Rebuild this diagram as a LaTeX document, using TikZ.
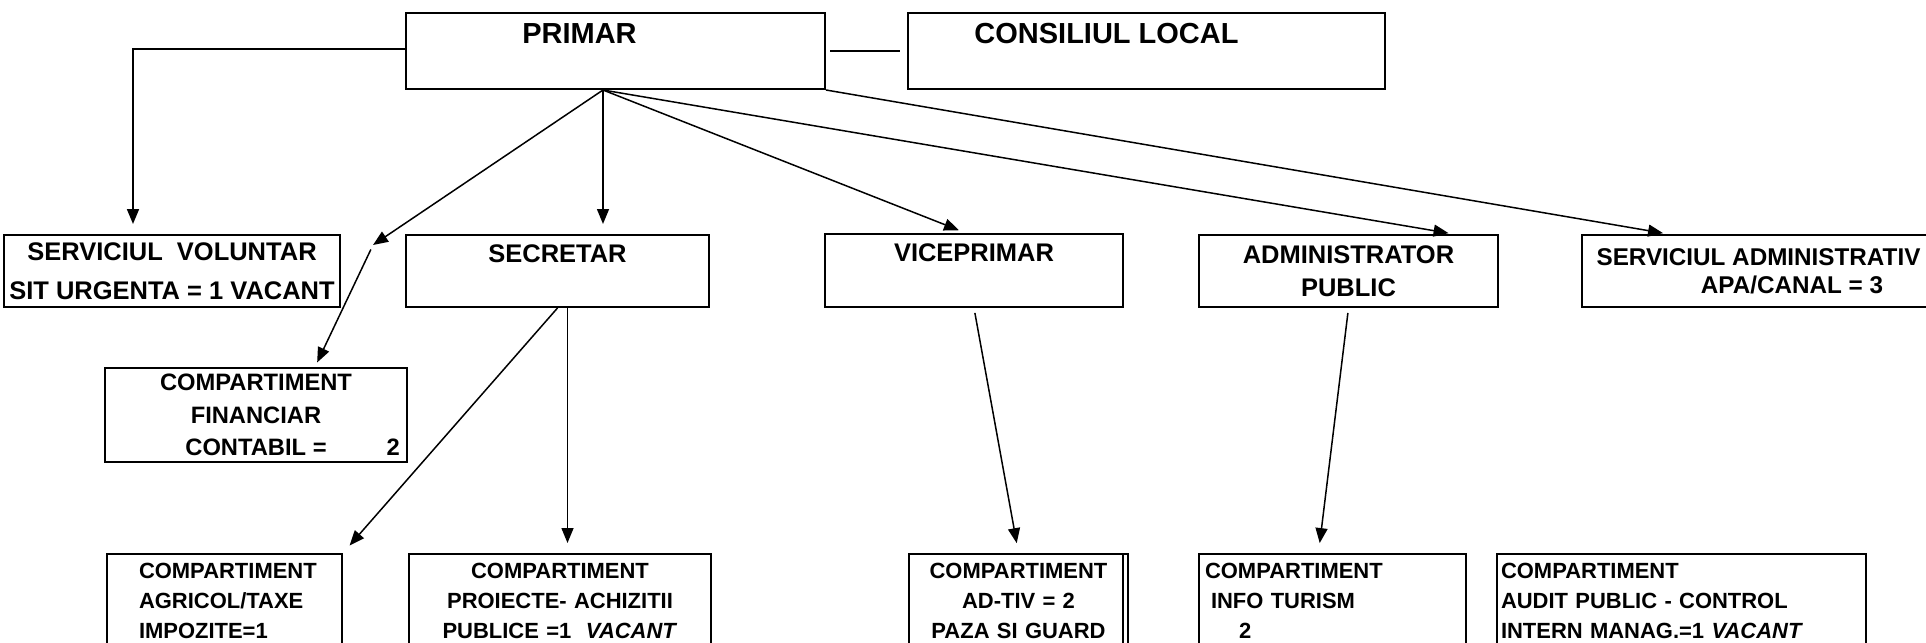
\documentclass[tikz,border=0pt]{standalone}
\usepackage{fontspec}
\setmainfont{Liberation Sans}
\usetikzlibrary{arrows.meta}

\begin{document}
\begin{tikzpicture}[x=0.2mm, y=-0.2mm,
	unit/.style={draw, line width=0.4mm, inner sep=0pt, align=center,
		font=\bfseries\fontsize{14.5}{19}\selectfont},
	head/.style={unit, font=\bfseries\fontsize{16.5}{20}\selectfont},
	comp/.style={draw, line width=0.4mm, anchor=north west, inner ysep=1.9mm,
		font=\bfseries\fontsize{12.5}{17}\selectfont},
	link/.style={line width=0.3mm, -{Triangle[length=3mm,width=2.4mm]}, shorten >=2mm},
	tie/.style={line width=0.4mm}]
	\useasboundingbox (0,0) rectangle (1926,643);

	% top
	\node[head, minimum width=83.8mm, text height=6.1mm, text depth=9.1mm] (primar) at (615.5,51) {PRIMAR\hspace*{14.4mm}};
	\node[head, minimum width=95.4mm, text height=6.1mm, text depth=9.1mm] (consiliu) at (1146.5,51) {CONSILIUL LOCAL\hspace*{16mm}};

	% second row
	\node[unit, minimum width=67.2mm, minimum height=14.4mm, font=\bfseries\fontsize{14.5}{22}\selectfont] (voluntar) at (172,271) {SERVICIUL\ \ VOLUNTAR\\SIT URGENTA = 1 VACANT};
	\node[unit, minimum width=60.6mm, text height=5.4mm, text depth=9mm] (secretar) at (557.5,271) {SECRETAR};
	\node[unit, minimum width=59.6mm, text height=5.4mm, text depth=9.2mm] (vice) at (974,270.5) {VICEPRIMAR};
	\node[unit, minimum width=59.8mm, minimum height=14.4mm] (admin) at (1348.5,271) {ADMINISTRATOR\\PUBLIC};
	\node[unit, minimum width=84mm, minimum height=14.4mm, font=\bfseries\fontsize{13.8}{16}\selectfont] (serviciu) at (1792,271) {SERVICIUL ADMINISTRATIV\hspace*{13.4mm}\\APA/CANAL = 3};

	\node[unit, minimum width=60.4mm, minimum height=18.8mm, font=\bfseries\fontsize{13.5}{18.5}\selectfont] (financiar) at (256,415) {COMPARTIMENT\\FINANCIAR\\CONTABIL =\rlap{\hspace{12mm}2}};

	% bottom row
	\node[comp, text width=34.2mm, inner xsep=6.4mm, align=left] (agricol) at (106,553) {COMPARTIMENT\\AGRICOL/TAXE\\IMPOZITE=1\\\mbox{}};
	\node[comp, text width=60.4mm, inner xsep=0pt, align=center] (proiecte) at (408,553) {COMPARTIMENT\\PROIECTE- ACHIZITII\\PUBLICE =1\ \ \textit{VACANT}\\\mbox{}};
	\node[comp, text width=43.8mm, inner xsep=0pt, align=center] (adtiv) at (908,553) {COMPARTIMENT\\AD-TIV = 2\\PAZA SI GUARD\\\mbox{}};
	\node[comp, text width=51mm, inner xsep=1.2mm, align=left] (info) at (1198,553) {COMPARTIMENT\\\hspace*{1.2mm}INFO TURISM\\\hspace*{6.8mm}2\\\mbox{}};
	\node[comp, text width=72.2mm, inner xsep=0.8mm, align=left] (audit) at (1496,553) {COMPARTIMENT\\AUDIT PUBLIC - CONTROL\\INTERN MANAG.=1 \textit{VACANT}\\\mbox{}};
	\draw[line width=0.4mm] ([xshift=-1.2mm]adtiv.north east) -- ([xshift=-1.2mm]adtiv.south east);

	\coordinate (fan) at ([xshift=-2.5mm]primar.south);
	\coordinate (corner) at (133,49);
	\coordinate (bend) at (373,245);
	\coordinate (drop) at ([xshift=2mm]secretar.south);

	\draw[tie, shorten <=0.8mm, shorten >=1.4mm] (primar.east) -- (consiliu.west);
	\draw[link, line width=0.35mm] (primar.west |- corner) -- (corner) -- (corner |- voluntar.north);
	\draw[link] (fan) -- (fan |- secretar.north);
	\draw[link, shorten >=0pt] (fan) -- (bend);
	\draw[link, shorten <=1mm, shorten >=1mm] (bend) -- ([xshift=11.8mm]financiar.north);
	\draw[link, shorten >=1.5mm] (fan) -- ([xshift=-1.6mm]vice.north);
	\draw[link, shorten >=1mm] (fan) -- ([xshift=21mm]admin.north);
	\draw[link, shorten >=1mm] (primar.south east) -- ([xshift=17.4mm]serviciu.north west);
	\draw[link] (secretar.south) -- (agricol.north east);
	\draw[link] (drop) -- (drop |- proiecte.north);
	\draw[link, shorten <=1mm] (vice.south) -- (adtiv.north);
	\draw[link, shorten <=1mm] (admin.south) -- ([xshift=-2.8mm]info.north);
\end{tikzpicture}
\end{document}
